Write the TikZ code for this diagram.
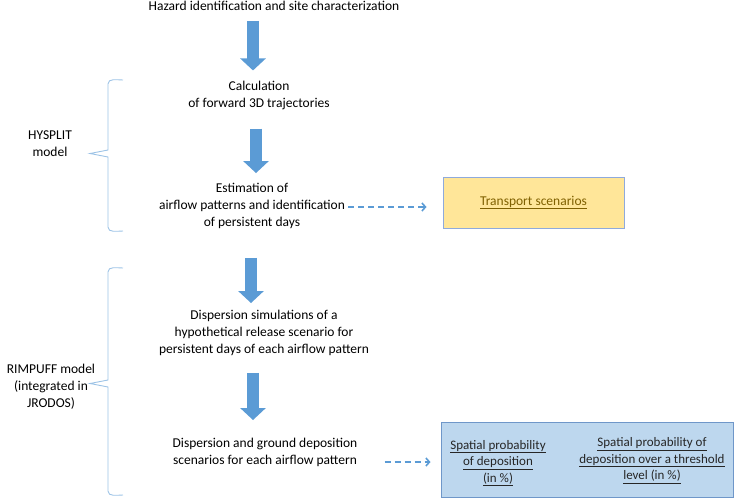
\documentclass[tikz,border=0pt]{standalone}
\usepackage{fontspec}
\setmainfont{Carlito}
\usetikzlibrary{arrows.meta}
\definecolor{arrblue}{HTML}{5B9BD5}
\definecolor{braceblue}{HTML}{9DC3E6}
\definecolor{transpfill}{HTML}{FFE699}
\definecolor{transpline}{HTML}{8FAADC}
\definecolor{transptext}{HTML}{7F6000}
\definecolor{probfill}{HTML}{BDD7EE}
\definecolor{probline}{HTML}{6F97C9}
\tikzset{
  steptext/.style={align=center, inner sep=0pt, font=\fontsize{13.5}{17}\selectfont},
  blockarr/.style={draw=arrblue, line width=12pt, -{Triangle[length=12pt,width=25pt]}},
  dasharr/.style={draw=arrblue, line width=1.6pt, dash pattern=on 6pt off 4pt, -{Straight Barb[length=3.5pt,width=8pt]}},
  brace/.style={draw=braceblue, line width=0.9pt},
  transpbox/.style={draw=transpline, line width=1pt, fill=transpfill, minimum width=181pt, minimum height=51pt, font=\fontsize{13.5}{17}\selectfont, text=transptext},
  probbox/.style={draw=probline, line width=1pt, fill=probfill, minimum width=292pt, minimum height=75pt},
  probtext/.style={align=center, inner sep=0pt, font=\fontsize{13}{16.5}\selectfont, text=black!85}
}
\begin{document}
\begin{tikzpicture}[x=1pt,y=-1pt]
\useasboundingbox (0,0) rectangle (734,498);
% steps of the method
\node[steptext] (hazard) at (274,6) {Hazard identification and site characterization};
\node[steptext] (calc) at (259,95) {Calculation\\of forward 3D trajectories};
\node[steptext] (estim) at (252,206) {Estimation of\\airflow patterns and identification\\of persistent days};
\node[steptext] (disp) at (264,333) {Dispersion simulations of a\\hypothetical release scenario for\\persistent days of each airflow pattern};
\node[steptext] (depos) at (265,452.5) {Dispersion and ground deposition\\scenarios for each airflow pattern};
% models
\node[steptext] (hysplit) at (50,144) {HYSPLIT\\model};
\node[steptext] (rimpuff) at (51,387) {RIMPUFF model\\(integrated in\\JRODOS)};
% results
\node[transpbox] (transp) at (533.5,202.5) {\underline{Transport scenarios}};
\node[probbox] (prob) at (587,459.5) {};
\node[probtext] (prob1) at (498,463) {\underline{Spatial probability}\\\underline{of deposition}\\\underline{(in \%)}};
\node[probtext] (prob2) at (652,460.5) {\underline{Spatial probability of}\\\underline{deposition over a threshold}\\\underline{level (in \%)}};
% block arrows
\draw[blockarr] ([xshift=-21pt,yshift=-10pt] hazard.south) -- ([xshift=-6pt,yshift=10pt] calc.north);
\draw[blockarr] ([xshift=-3pt,yshift=-19pt] calc.south) -- ([xshift=4pt,yshift=10pt] estim.north);
\draw[blockarr] ([xshift=-1pt,yshift=-29pt] estim.south) -- ([xshift=-13pt,yshift=7pt] disp.north);
\draw[blockarr] ([xshift=-11pt,yshift=-17pt] disp.south) -- ([xshift=-12pt,yshift=18pt] depos.north);
% dashed arrows
\coordinate (e2) at ([yshift=-1pt] estim.east);
\draw[dasharr, shorten <=3pt, shorten >=16pt] (e2) -- (e2 -| transp.west);
\coordinate (d2) at ([yshift=-9.5pt] depos.east);
\draw[dasharr, shorten <=27pt, shorten >=10pt] (d2) -- (d2 -| prob.west);
% braces
\draw[brace] (123,80) to[out=180,in=90] (108,84) -- (108,150) -- (90,153.5) -- (108,157) -- (108,227) to[out=-90,in=180] (123,231);
\draw[brace] (123,268) to[out=180,in=90] (108,272) -- (108,380) -- (90,383.5) -- (108,387) -- (108,491) to[out=-90,in=180] (123,495);
\end{tikzpicture}
\end{document}
